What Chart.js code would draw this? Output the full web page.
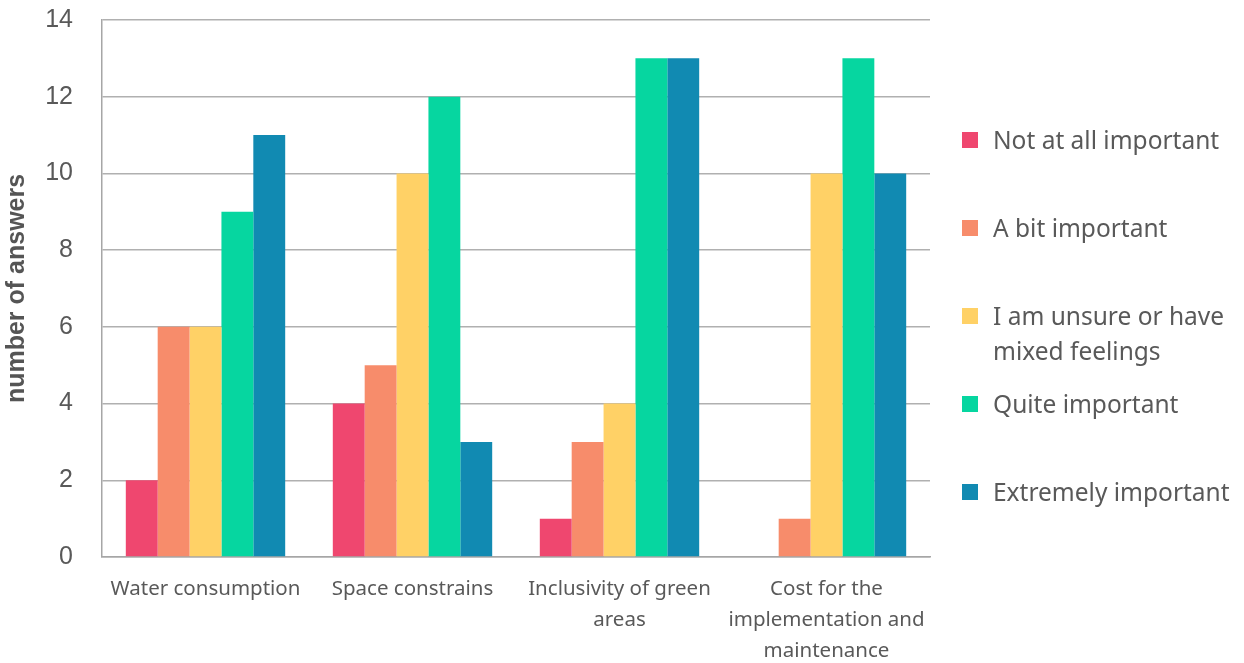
<!DOCTYPE html>
<html>
<head>
<meta charset="utf-8">
<script src="https://cdn.jsdelivr.net/npm/chart.js@4.4.1/dist/chart.umd.min.js"></script>
<style>
    html, body { margin: 0; padding: 0; background: #fff; }
    #wrap { position: relative; width: 1244px; height: 663px; }
    #legend { position: absolute; left: 962px; top: 0; font-family: 'Noto Sans', sans-serif; font-size: 24.5px; color: #595959; }
    .item { position: absolute; left: 0; width: 282px; white-space: nowrap; line-height: 35px; }
    .box { position: absolute; left: 0; top: 10px; width: 16px; height: 16px; }
    .txt { position: absolute; left: 31px; top: 0; }
</style>
</head>
<body>
<div id="wrap">
    <canvas id="chart" width="1244" height="663"></canvas>
    <div id="legend"></div>
</div>
<script>
// survey answers per criterion
const categories = [
    'Water consumption',
    'Space constrains',
    ['Inclusivity of green', 'areas'],
    ['Cost for the', 'implementation and', 'maintenance']
];
const seriesNames = [
    'Not at all important',
    'A bit important',
    'I am unsure or have mixed feelings',
    'Quite important',
    'Extremely important'
];
const notAtAll = [2, 4, 1, 0];
const aBit = [6, 5, 3, 1];
const unsure = [6, 10, 4, 10];
const quite = [9, 12, 13, 13];
const extremely = [11, 3, 13, 10];
const yTicks = [0, 2, 4, 6, 8, 10, 12, 14];

const palette = ['#ef476f', '#f78c6b', '#ffd166', '#06d6a0', '#118ab2'];
const seriesValues = [notAtAll, aBit, unsure, quite, extremely];

// legend rows: label lines and vertical position
const legendRows = [
    { lines: ['Not at all important'], top: 122 },
    { lines: ['A bit important'], top: 210 },
    { lines: ['I am unsure or have', 'mixed feelings'], top: 298 },
    { lines: ['Quite important'], top: 386 },
    { lines: ['Extremely important'], top: 474 }
];

const legendEl = document.getElementById('legend');
legendRows.forEach((row, i) => {
    const item = document.createElement('div');
    item.className = 'item';
    item.style.top = row.top + 'px';
    item.title = seriesNames[i];
    const box = document.createElement('div');
    box.className = 'box';
    box.style.background = palette[i];
    const txt = document.createElement('div');
    txt.className = 'txt';
    txt.innerHTML = row.lines.join('<br>');
    item.appendChild(box);
    item.appendChild(txt);
    legendEl.appendChild(item);
});

new Chart(document.getElementById('chart'), {
    type: 'bar',
    data: {
        labels: categories,
        datasets: seriesValues.map((vals, i) => ({
            label: seriesNames[i],
            data: vals,
            backgroundColor: palette[i],
            borderWidth: 0,
            barPercentage: 1.0,
            categoryPercentage: 0.77
        }))
    },
    options: {
        responsive: false,
        animation: false,
        layout: { padding: { top: 20, right: 314, bottom: 0, left: 0 } },
        plugins: {
            legend: { display: false },
            tooltip: { enabled: false }
        },
        scales: {
            x: {
                grid: { display: false },
                border: { display: true, color: '#a6a6a6', width: 1.5 },
                afterFit: axis => { axis.height = 106; },
                ticks: {
                    color: '#595959',
                    font: { family: "'Noto Sans', sans-serif", size: 20.5, lineHeight: 1.5 },
                    padding: 9,
                    maxRotation: 0,
                    autoSkip: false
                }
            },
            y: {
                min: 0,
                max: 14,
                afterBuildTicks: axis => { axis.ticks = yTicks.map(v => ({ value: v })); },
                afterFit: axis => {
                    axis.width = 102;
                    axis.paddingTop = 0;
                    axis.paddingBottom = 0;
                },
                grid: { color: '#b0b0b0', lineWidth: 1.5, drawTicks: false },
                border: { display: true, color: '#a6a6a6', width: 1.5 },
                ticks: {
                    color: '#595959',
                    font: { family: "'Liberation Sans', Arial, sans-serif", size: 25 },
                    padding: 29
                },
                title: {
                    display: true,
                    text: 'number of answers',
                    color: '#555555',
                    font: { family: "'Liberation Sans', Arial, sans-serif", size: 25, weight: 'bold' },
                    padding: { top: 2, bottom: 0 }
                }
            }
        }
    }
});
</script>
</body>
</html>
